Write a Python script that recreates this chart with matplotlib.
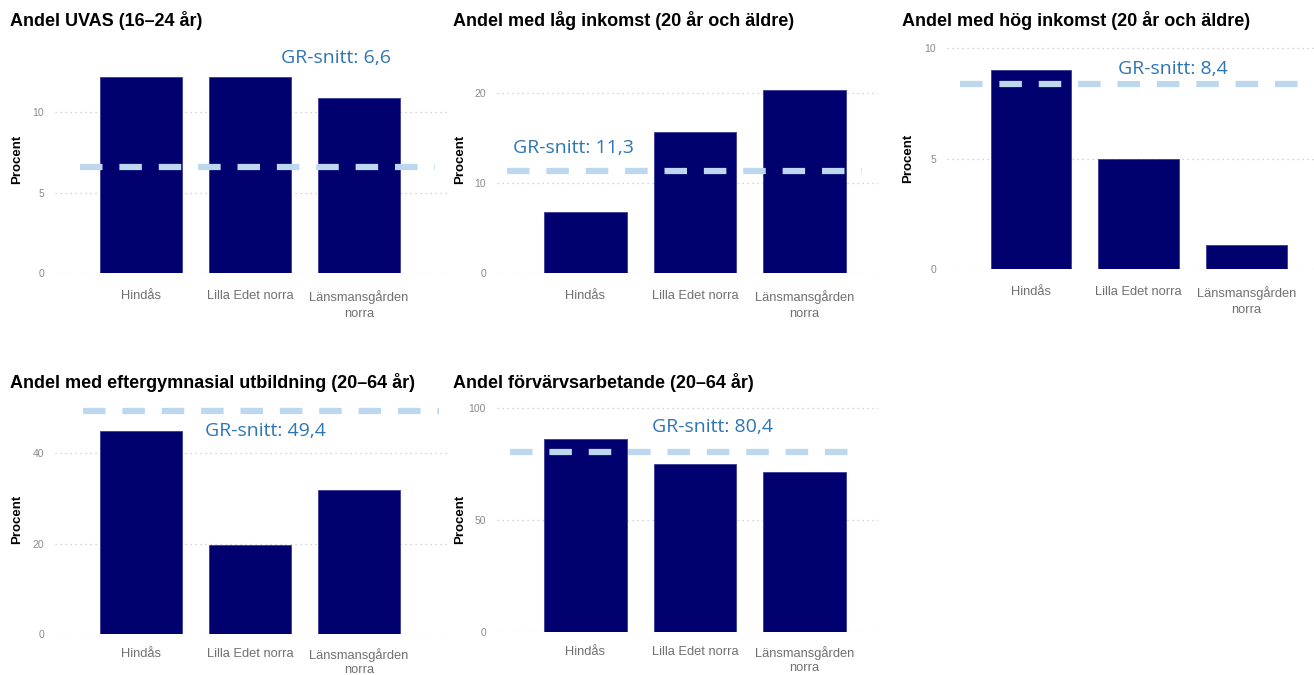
import matplotlib
matplotlib.use('Agg')
import matplotlib.pyplot as plt

# Data
omraden = ['Hindås', 'Lilla Edet norra', 'Länsmansgården\nnorra']

titlar = ['Andel UVAS (16–24 år)',
          'Andel med låg inkomst (20 år och äldre)',
          'Andel med hög inkomst (20 år och äldre)',
          'Andel med eftergymnasial utbildning (20–64 år)',
          'Andel förvärvsarbetande (20–64 år)']

uvas = [12.2, 12.2, 10.9]
lag_inkomst = [6.8, 15.7, 20.3]
hog_inkomst = [9.0, 5.0, 1.1]
eftergymn = [44.9, 19.7, 31.8]
forvarv = [86.2, 75.0, 71.4]

gr_snitt = [6.6, 11.3, 8.4, 49.4, 80.4]
gr_text = ['GR-snitt: 6,6', 'GR-snitt: 11,3', 'GR-snitt: 8,4', 'GR-snitt: 49,4', 'GR-snitt: 80,4']

yticks = [[0, 5, 10], [0, 10, 20], [0, 5, 10], [0, 20, 40], [0, 50, 100]]

serier = [uvas, lag_inkomst, hog_inkomst, eftergymn, forvarv]

# Layout in pixels (figure is 1314 x 675)
W, H = 1314, 675
# left, right, zero-pixel, top-pixel, ymax, xlim
axes_px = [
    (55, 448, 273, 64, 13, (-0.789, 2.817)),
    (497, 878, 273, 84, 21, (-0.808, 2.671)),
    (947, 1314, 269, 44, 10.2, (-0.78, 2.626)),
    (55, 448, 634, 426, 46, (-0.789, 2.817)),
    (497, 878, 632, 406, 101, (-0.808, 2.671)),
]
title_px = [(10, 20), (453, 20), (902, 20), (10, 383), (453, 383)]
ylabel_px = [(17, 159), (460, 159), (908, 158), (17, 519), (460, 519)]
gr_px = [(336, 58), (573, 148), (1173, 69), (265, 431), (713, 427)]
dash_x = [(-0.56, 2.70), (-0.717, 2.525), (-0.66, 2.75), (-0.53, 2.73), (-0.69, 2.54)]
label_pad = [12, 12, 12, 10, 10]
label_ls = [1.45, 1.45, 1.45, 1.2, 1.2]

narrow = ['Liberation Sans', 'DejaVu Sans']
bar_color = '#00006E'
dash_color = '#BDD7EE'
gr_color = '#2E75B6'

fig = plt.figure(figsize=(W / 100, H / 100), dpi=100)
fig.patch.set_facecolor('white')

for i in range(5):
    left, right, zero, top, ymax, xl = axes_px[i]
    ax = fig.add_axes([left / W, 1 - zero / H, (right - left) / W, (zero - top) / H])
    x = range(len(omraden))
    ax.bar(x, serier[i], width=0.75, color=bar_color, edgecolor='#3a3a9a', linewidth=0.6, zorder=2)
    ax.set_xlim(*xl)
    ax.set_ylim(0, ymax)
    ax.set_yticks(yticks[i])
    ax.set_xticks(list(x))
    ax.set_xticklabels(omraden, family=narrow, fontsize=9.3, color='#707070', linespacing=label_ls[i])
    ax.tick_params(axis='both', length=0)
    ax.tick_params(axis='x', pad=label_pad[i])
    ax.tick_params(axis='y', pad=8, labelsize=7.5, labelcolor='#8a8a8a')
    for lab in ax.get_yticklabels():
        lab.set_family(narrow)
    ax.grid(axis='y', linestyle=(0, (1, 3)), color='#c8c8c8', linewidth=0.9, zorder=0)
    for s in ax.spines.values():
        s.set_visible(False)
    ax.set_facecolor('none')

    # GR average dashed line
    ax.plot(dash_x[i], [gr_snitt[i], gr_snitt[i]], color=dash_color, linewidth=4.5,
            linestyle=(0, (3.6, 2.7)), solid_capstyle='butt', dash_capstyle='butt',
            clip_on=False, zorder=3)

    fig.text(title_px[i][0] / W, 1 - title_px[i][1] / H, titlar[i], family=narrow,
             fontweight='bold', fontsize=13, ha='left', va='center', color='black')
    fig.text(ylabel_px[i][0] / W, 1 - ylabel_px[i][1] / H, 'Procent', family=narrow,
             fontweight='bold', fontsize=9.5, rotation=90, ha='center', va='center')
    fig.text(gr_px[i][0] / W, 1 - gr_px[i][1] / H, gr_text[i], family=['Open Sans', 'DejaVu Sans'],
             fontsize=14, color=gr_color, ha='center', va='center',
             bbox=dict(facecolor='white', edgecolor='none', pad=2), zorder=1)

fig.savefig('out.png', dpi=100, facecolor='white')
